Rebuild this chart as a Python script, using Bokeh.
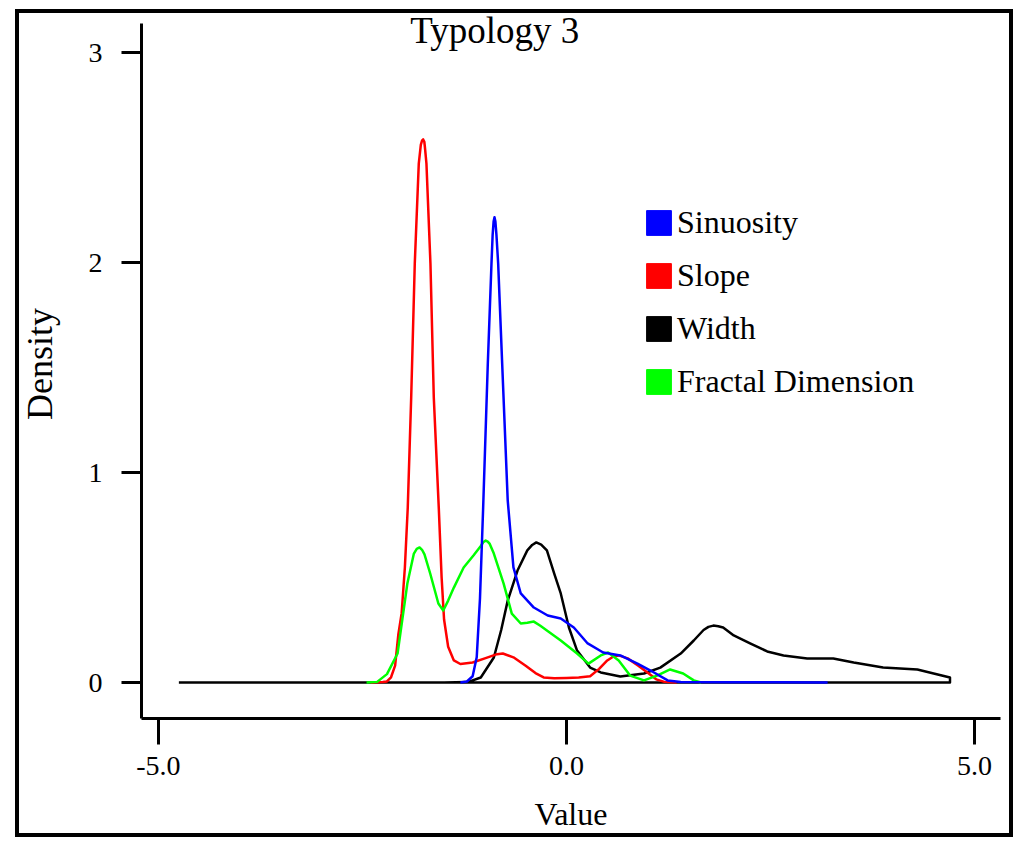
from bokeh.plotting import figure
from bokeh.models import (Range1d, FixedTicker, PrintfTickFormatter, Label, Legend, LegendItem,
                          ColumnDataSource)
from bokeh.embed import file_html
from bokeh.resources import INLINE

# ---- data ----
title_text = "Typology 3"
x_label = "Value"
y_label = "Density"
x_ticks = [-5, 0, 5]
y_ticks = [0, 1, 2, 3]
series_names = ["Sinuosity", "Slope", "Width", "Fractal Dimension"]
series_colors = ["#0000ff", "#ff0000", "#000000", "#00ff00"]

slope_x = [-2.40, -2.25, -2.20, -2.15, -2.10, -2.06, -2.02, -1.98, -1.945, -1.903, -1.859, -1.81, -1.785,
           -1.77, -1.756, -1.742, -1.735, -1.716, -1.667, -1.626, -1.565, -1.53, -1.50, -1.45, -1.38, -1.30,
           -1.15, -1.00, -0.85, -0.78, -0.65, -0.50, -0.38, -0.28, -0.15, 0.00, 0.15, 0.29, 0.40, 0.50,
           0.58, 0.64, 0.75, 0.88, 1.00, 1.10, 1.20, 1.35]
slope_y = [0.0, 0.002, 0.005, 0.025, 0.08, 0.23, 0.33, 0.55, 0.833, 1.357, 1.995, 2.471, 2.56,
           2.58, 2.586, 2.575, 2.55, 2.471, 1.995, 1.357, 0.833, 0.50, 0.30, 0.17, 0.105, 0.088,
           0.095, 0.115, 0.135, 0.138, 0.12, 0.08, 0.045, 0.024, 0.02, 0.022, 0.024, 0.03, 0.065, 0.105,
           0.125, 0.129, 0.115, 0.08, 0.045, 0.015, 0.003, 0.0]

sinuosity_x = [-1.30, -1.22, -1.15, -1.10, -1.06, -1.021, -0.964, -0.919, -0.905, -0.893, -0.882, -0.871,
               -0.858, -0.837, -0.788, -0.72, -0.65, -0.56, -0.40, -0.23, -0.07, 0.09, 0.26, 0.45, 0.66,
               0.87, 1.03, 1.24, 1.40, 2.00, 2.60, 3.20]
sinuosity_y = [0.0, 0.005, 0.03, 0.12, 0.40, 0.833, 1.519, 1.995, 2.13, 2.195, 2.216, 2.195,
               2.13, 1.995, 1.519, 0.867, 0.548, 0.424, 0.357, 0.319, 0.305, 0.262, 0.186, 0.143, 0.129,
               0.09, 0.057, 0.01, 0.002, 0.001, 0.0015, 0.0]

fractal_x = [-2.45, -2.32, -2.20, -2.07, -1.95, -1.87, -1.835, -1.80, -1.77, -1.74, -1.67, -1.57, -1.51,
             -1.45, -1.38, -1.26, -1.14, -1.05, -1.02, -0.99, -0.965, -0.94, -0.89, -0.77, -0.67, -0.56,
             -0.48, -0.40, -0.32, -0.24, -0.07, 0.13, 0.27, 0.42, 0.51, 0.64, 0.78, 0.95, 1.11, 1.27,
             1.43, 1.56, 1.65]
fractal_y = [0.0, 0.003, 0.04, 0.138, 0.471, 0.614, 0.636, 0.643, 0.632, 0.61, 0.519, 0.376, 0.343,
             0.39, 0.452, 0.548, 0.605, 0.65, 0.668, 0.676, 0.671, 0.66, 0.614, 0.471, 0.328, 0.281,
             0.285, 0.29, 0.27, 0.248, 0.2, 0.138, 0.09, 0.129, 0.143, 0.105, 0.033, 0.01, 0.033, 0.062,
             0.043, 0.01, 0.0]

width_x = [-4.75, -3.0, -2.0, -1.50, -1.21, -1.05, -0.89, -0.80, -0.72, -0.60, -0.48, -0.42, -0.37,
           -0.31, -0.24, -0.15, -0.07, 0.03, 0.13, 0.29, 0.42, 0.66, 0.95, 1.15, 1.40, 1.56, 1.68,
           1.74, 1.80, 1.86, 1.92, 2.05, 2.25, 2.46, 2.66, 2.95, 3.27, 3.52, 3.88, 4.30, 4.50, 4.70,
           4.70, -4.75]
width_y = [0.0, 0.0, 0.0, 0.0, 0.002, 0.024, 0.119, 0.25, 0.39, 0.533, 0.629, 0.655, 0.667,
           0.657, 0.629, 0.519, 0.424, 0.262, 0.152, 0.071, 0.048, 0.029, 0.043, 0.071, 0.138, 0.2, 0.25,
           0.265, 0.271, 0.268, 0.262, 0.224, 0.186, 0.148, 0.129, 0.114, 0.114, 0.095, 0.071, 0.062, 0.043,
           0.024, 0.0, 0.0]

SERIF = "Liberation Serif"

p = figure(width=998, height=828, output_backend="svg", toolbar_location=None,
           x_range=Range1d(-5.208, 5.319), y_range=Range1d(-0.1714, 3.2048),
           min_border_left=126, min_border_right=13, min_border_top=0, min_border_bottom=119)
# outer frame of the figure, drawn inside the plot's own box
p.styles = {"outline": "4px solid black", "outline-offset": "-4px",
            "margin-left": "15px", "margin-top": "9px"}
p.outline_line_color = None
p.xgrid.visible = False
p.ygrid.visible = False
p.background_fill_alpha = 0
p.border_fill_alpha = 0

curves = {
    "Width": (width_x, width_y),
    "Slope": (slope_x, slope_y),
    "Fractal Dimension": (fractal_x, fractal_y),
    "Sinuosity": (sinuosity_x, sinuosity_y),
}
color_of = dict(zip(series_names, series_colors))
for name, (xs, ys) in curves.items():
    p.line(xs, ys, line_color=color_of[name], line_width=2.5, line_join="round")

# legend with square swatches
nan = float("nan")
items = []
for name, col in zip(series_names, series_colors):
    src = ColumnDataSource(dict(left=[nan], right=[nan], top=[nan], bottom=[nan]))
    r = p.quad(left="left", right="right", top="top", bottom="bottom", source=src,
               fill_color=col, line_color=col)
    items.append(LegendItem(label=name, renderers=[r]))
legend = Legend(items=items, location=(502, 318), glyph_width=31, glyph_height=31,
                label_standoff=3, label_text_font=SERIF, label_text_font_size="32px",
                label_text_color="black", spacing=16, padding=0, margin=0,
                border_line_color=None, background_fill_alpha=0)
p.add_layout(legend, "center")

# axes
for ax in (p.xaxis[0], p.yaxis[0]):
    ax.axis_line_width = 3
    ax.major_tick_line_width = 3
    ax.minor_tick_line_color = None
    ax.major_tick_in = 0
    ax.major_label_text_font = SERIF
    ax.major_label_text_font_size = "28px"
    ax.major_label_text_color = "black"
    ax.axis_label_text_font = SERIF
    ax.axis_label_text_font_style = "normal"
    ax.axis_label_text_color = "black"

p.xaxis.ticker = FixedTicker(ticks=x_ticks)
p.xaxis.formatter = PrintfTickFormatter(format="%.1f")
p.xaxis.major_tick_out = 26
p.xaxis.major_label_standoff = 12
p.xaxis.axis_label = x_label
p.xaxis.axis_label_text_font_size = "32px"
p.xaxis.axis_label_standoff = 18

p.yaxis.bounds = (-0.1714, 3.138)
p.yaxis.ticker = FixedTicker(ticks=y_ticks)
p.yaxis.major_tick_out = 20
p.yaxis.major_label_standoff = 19
p.yaxis.major_label_orientation = "horizontal"
p.yaxis.axis_label = y_label
p.yaxis.axis_label_text_font_size = "36px"
p.yaxis.axis_label_standoff = 26

p.add_layout(Label(x=-0.88, y=3.105, text=title_text, text_font=SERIF, text_font_size="37px",
                   text_align="center", text_baseline="middle", text_color="black"))

open("out.html", "w").write(file_html(p, INLINE))
